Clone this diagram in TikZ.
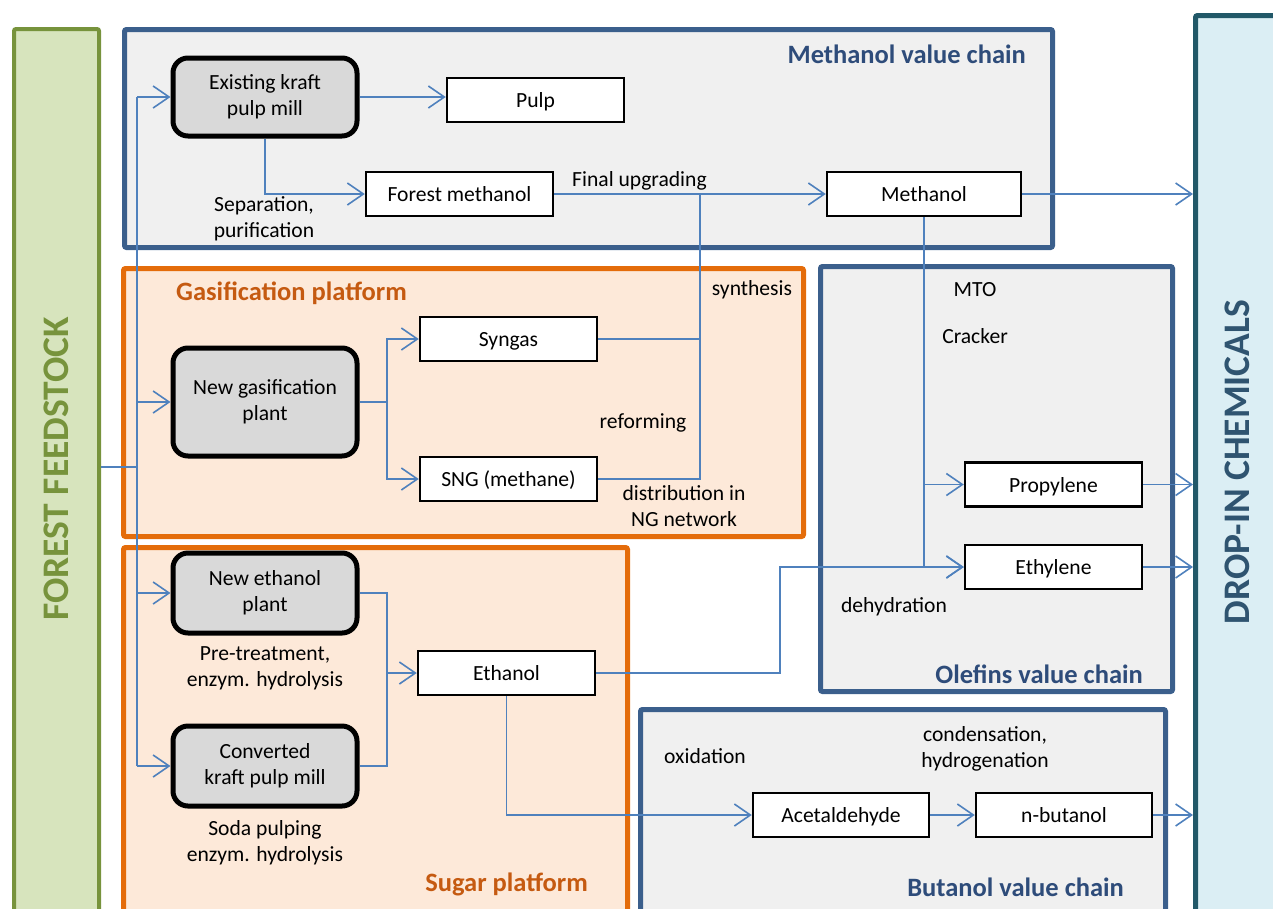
\documentclass[tikz,border=0pt]{standalone}
\usepackage{fontspec}
\setmainfont{Carlito}
\usetikzlibrary{arrows.meta}
\definecolor{flowc}{HTML}{4F81BD}
\definecolor{chainblue}{HTML}{3B5F8C}
\definecolor{chaintext}{HTML}{2E4C7A}
\definecolor{chainfill}{HTML}{F0F0F0}
\definecolor{platorange}{HTML}{E46C0A}
\definecolor{plattext}{HTML}{C55A11}
\definecolor{platfill}{HTML}{FDE9D9}
\definecolor{feedgreen}{HTML}{77933C}
\definecolor{feedfill}{HTML}{D7E4BD}
\definecolor{dropteal}{HTML}{215868}
\definecolor{droptext}{HTML}{2F5470}
\definecolor{dropfill}{HTML}{DBEEF4}
\definecolor{plantfill}{HTML}{D9D9D9}
\tikzset{
  plantbox/.style={draw=black, line width=5pt, fill=plantfill, rounded corners=15pt,
    minimum width=184pt, align=center, font=\fontsize{21.6}{26}\selectfont},
  procbox/.style={draw=black, line width=2.5pt, fill=white, minimum height=44pt,
    align=center, font=\fontsize{21.6}{26}\selectfont, text depth=0pt, text height=15pt},
  lbl/.style={align=center, font=\fontsize{21.6}{26}\selectfont, inner sep=0pt},
  chaintitle/.style={font=\fontsize{26.5}{30}\selectfont\bfseries, text=chaintext, inner sep=0pt},
  plattitle/.style={font=\fontsize{26.5}{30}\selectfont\bfseries, text=plattext, inner sep=0pt},
  chainbox/.style={draw=chainblue, line width=5pt, fill=chainfill, rounded corners=2pt},
  platbox/.style={draw=platorange, line width=5pt, fill=platfill, rounded corners=2pt},
  flow/.style={draw=flowc, line width=1.6pt},
  flowarr/.style={flow, -{Straight Barb[length=16pt,width=22pt,line width=1.6pt]}},
}
\begin{document}
\begin{tikzpicture}[x=1pt,y=-1pt]
\useasboundingbox (0,0) rectangle (1273,908);
\clip (0,0) rectangle (1273,908);
% side bars
\draw[draw=feedgreen, line width=4pt, fill=feedfill, rounded corners=2pt] (14,29) rectangle (99,930);
\node[rotate=90, font=\fontsize{37.5}{40}\selectfont\bfseries, text=feedgreen] (feedtxt) at (56,469) {FOREST FEEDSTOCK};
\draw[draw=dropteal, line width=5pt, fill=dropfill, rounded corners=2pt] (1195.5,15.5) rectangle (1290,930);
\node[rotate=90, font=\fontsize{37.5}{40}\selectfont\bfseries, text=droptext] (droptxt) at (1237,462) {DROP-IN CHEMICALS};
% containers
\draw[chainbox] (124.5,29.5) rectangle (1052.5,247.5);
\node[chaintitle, anchor=east] (t1) at (1026,54) {Methanol value chain};
\draw[platbox] (123.5,268.5) rectangle (803.5,536.5);
\node[plattitle, anchor=west] (t2) at (176,293) {Gasification platform};
\draw[platbox] (123.5,547.5) rectangle (627.5,930);
\node[plattitle, anchor=east] (t3) at (588,884) {Sugar platform};
\draw[chainbox] (820.5,266.5) rectangle (1172.5,691.5);
\node[chaintitle, anchor=east] (t4) at (1143,674) {Olefins value chain};
\draw[chainbox] (640.5,709.5) rectangle (1165.5,930);
\node[chaintitle, anchor=east] (t5) at (1124,887) {Butanol value chain};
% plants
\node[plantbox, minimum height=78pt] (ekm) at (265,97) {Existing kraft\\pulp mill};
\node[plantbox, minimum height=108pt] (ngp) at (265,402) {New gasification\\plant};
\node[plantbox, minimum height=80pt] (nep) at (265,593) {New ethanol\\plant};
\node[plantbox, minimum height=80pt] (ckm) at (265,766) {Converted\\kraft pulp mill};
% process boxes
\node[procbox, minimum width=177pt] (pulp) at (535.5,100) {Pulp};
\node[procbox, minimum width=187pt] (fm) at (459.5,194) {Forest methanol};
\node[procbox, minimum width=194pt] (meth) at (924,194) {Methanol};
\node[procbox, minimum width=177pt] (syn) at (508.5,339) {Syngas};
\node[procbox, minimum width=177pt] (sng) at (508.5,479) {SNG (methane)};
\node[procbox, minimum width=177pt] (prop) at (1053.5,484.5) {Propylene};
\node[procbox, minimum width=177pt] (ethy) at (1053.5,567) {Ethylene};
\node[procbox, minimum width=177pt] (etoh) at (506.5,673) {Ethanol};
\node[procbox, minimum width=176pt] (acet) at (841,815) {Acetaldehyde};
\node[procbox, minimum width=176pt] (nbut) at (1064,815) {n-butanol};
% labels
\node[lbl] (l1) at (264,219) {Separation,\\purification};
\node[lbl, anchor=west] (l2) at (572,181) {Final upgrading};
\node[lbl] (l3) at (752,290) {synthesis};
\node[lbl] (l4) at (643,423) {reforming};
\node[lbl] (l5) at (684,506) {distribution in\\NG network};
\node[lbl] (l6) at (975,290) {MTO};
\node[lbl] (l7) at (975,336) {Cracker};
\node[lbl] (l8) at (894,607) {dehydration};
\node[lbl] (l9) at (265,668) {Pre-treatment,\\enzym. hydrolysis};
\node[lbl] (l10) at (265,843) {Soda pulping\\enzym. hydrolysis};
\node[lbl] (l11) at (705,756) {oxidation};
\node[lbl] (l12) at (985,749) {condensation,\\hydrogenation};
% coordinates
\coordinate (fin) at (101,467);
\coordinate (trunk) at (137,467);
\coordinate (j1) at (700,194);
\coordinate (gs) at (387,402);
\coordinate (es) at (387,673);
\coordinate (bend) at (780,567);
\coordinate (dropL) at (1193,0);
% connectors
\draw[flow] (fin) -- (trunk);
\draw[flow] (ekm.west -| trunk) -- (ckm.west -| trunk);
\draw[flowarr] (ekm.west -| trunk) -- (ekm.west);
\draw[flowarr] (ngp.west -| trunk) -- (ngp.west);
\draw[flowarr] (nep.west -| trunk) -- (nep.west);
\draw[flowarr] (ckm.west -| trunk) -- (ckm.west);
\draw[flowarr] (ekm.east) -- (pulp.west |- ekm.east);
\draw[flowarr] (ekm.south) |- (fm.west);
\draw[flowarr] (fm.east) -- (meth.west);
\draw[flow] (syn.east) -| (j1);
\draw[flow] (sng.east) -| (j1);
\draw[flow] (ngp.east) -- (gs);
\draw[flowarr] (gs) |- (syn.west);
\draw[flowarr] (gs) |- (sng.west);
\draw[flowarr] (meth.east) -- (meth.east -| dropL);
\draw[flow] (meth.south) -- (meth.south |- ethy.west);
\draw[flowarr] (meth.south |- prop.west) -- (prop.west);
\draw[flowarr] (meth.south |- ethy.west) -- (ethy.west);
\draw[flowarr] (prop.east) -- (prop.east -| dropL);
\draw[flowarr] (ethy.east) -- (ethy.east -| dropL);
\draw[flow] (nep.east) -| (es);
\draw[flow] (ckm.east) -| (es);
\draw[flowarr] (es) -- (etoh.west);
\draw[flowarr] (etoh.east) -| (bend) -- (ethy.west);
\draw[flowarr] (etoh.south) |- (acet.west);
\draw[flowarr] (acet.east) -- (nbut.west);
\draw[flowarr] (nbut.east) -- (nbut.east -| dropL);
\end{tikzpicture}
\end{document}
